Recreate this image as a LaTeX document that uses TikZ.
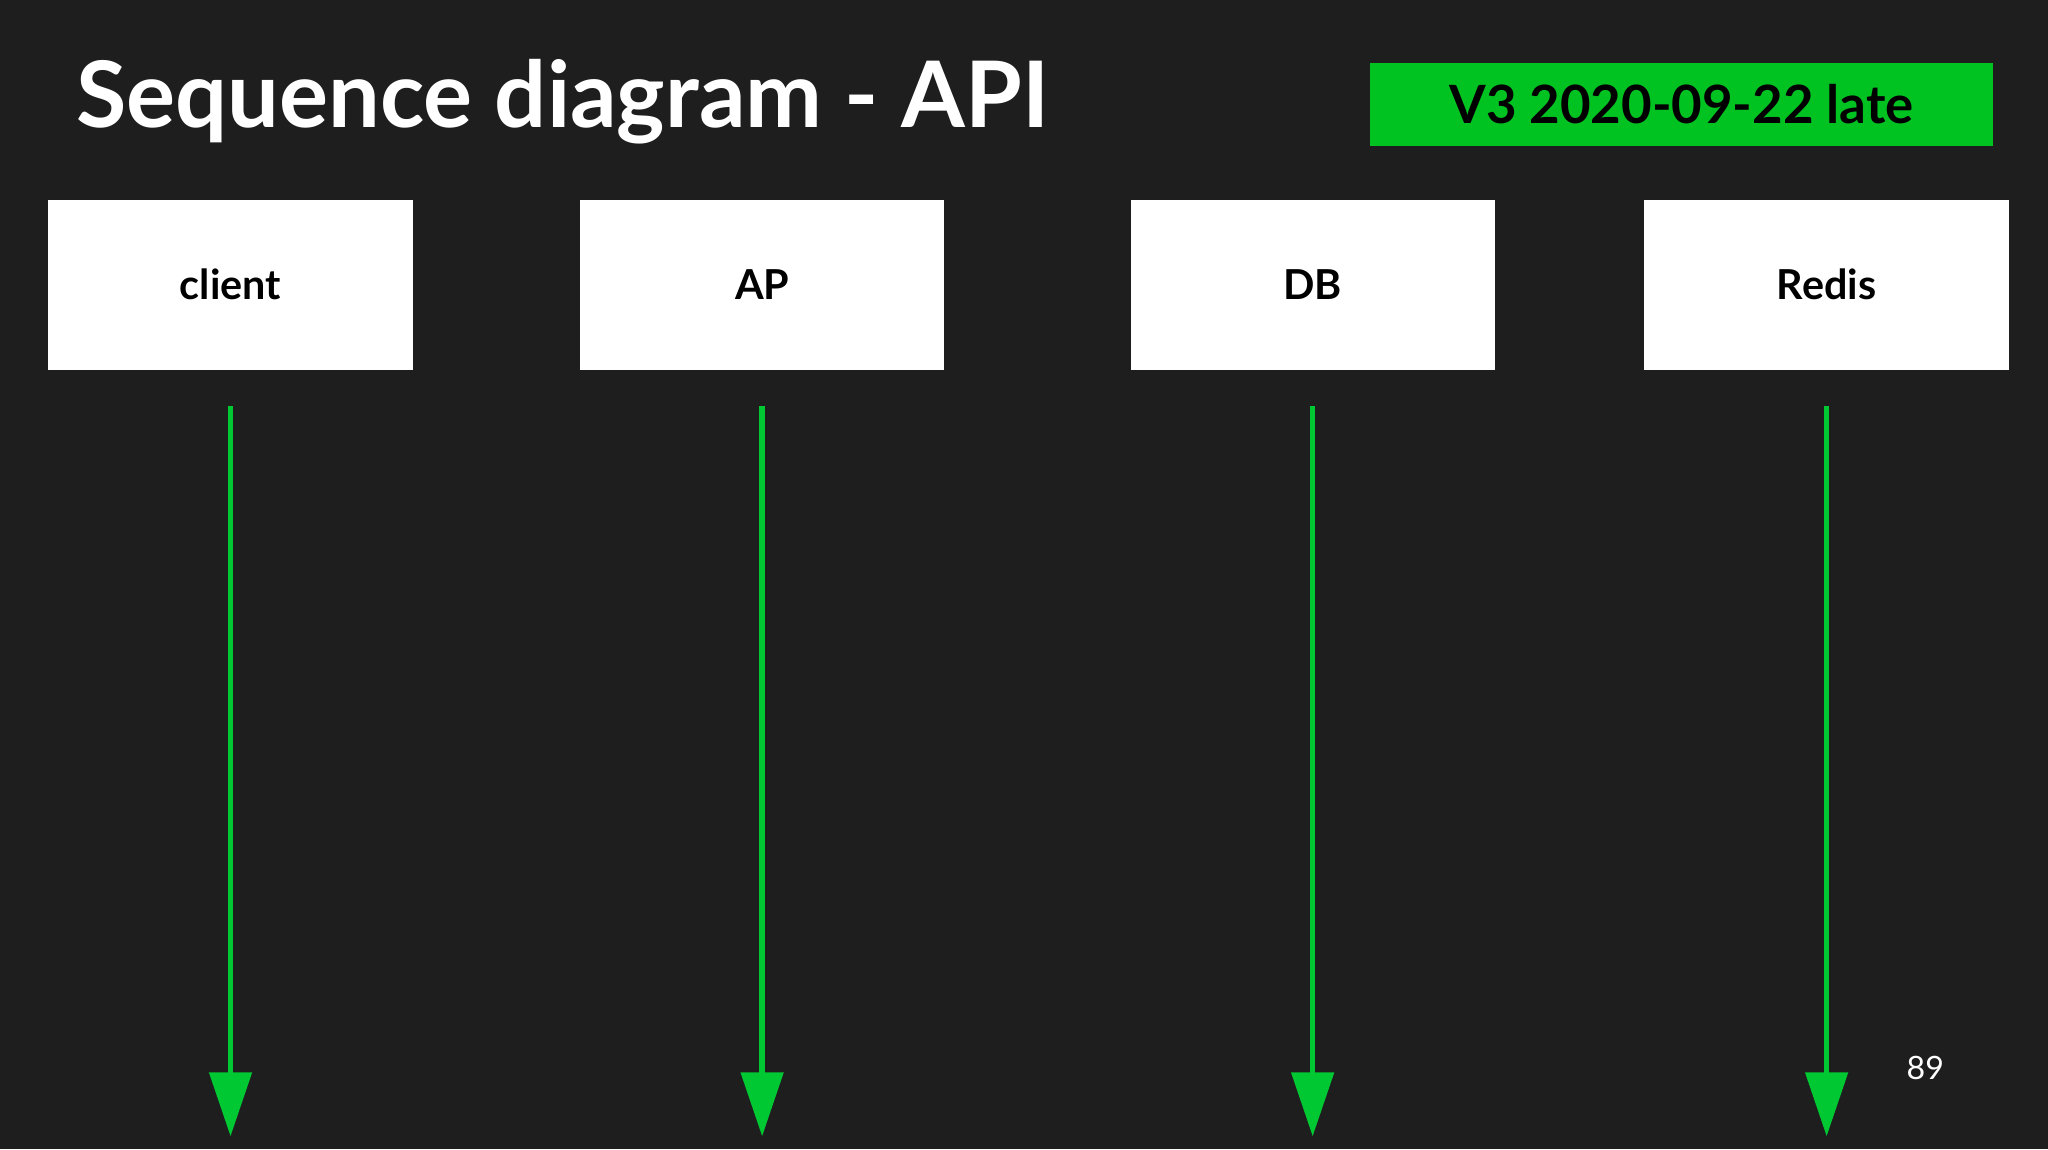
\documentclass[tikz,border=0pt]{standalone}
\usepackage{fontspec}
\setmainfont{Lato}
\usetikzlibrary{arrows.meta}
\definecolor{bg}{HTML}{1E1E1F}
\definecolor{grn}{HTML}{00C322}
\definecolor{arr}{HTML}{00C832}
\tikzset{
  actor/.style={draw=none,fill=white,minimum width=5.58cm,minimum height=2.6cm,inner sep=0pt,font=\fontsize{18}{20}\selectfont\bfseries,text=black},
  life/.style={draw=arr,line width=2.4pt,-{Triangle[width=0.64cm,length=0.98cm]}}
}
\begin{document}
\begin{tikzpicture}[x=0.02cm,y=-0.02cm]
\fill[bg] (0,0) rectangle (1568,880);
\useasboundingbox (0,0) rectangle (1568,880);
\node[anchor=west,text=white,font=\fontsize{40}{44}\selectfont\bfseries,inner sep=0pt] (title) at (58,78) {Sequence diagram - API};
\node[fill=grn,minimum width=9.54cm,minimum height=1.28cm,inner sep=0pt,font=\fontsize{23}{26}\selectfont\bfseries] (ver) at (1287.5,80) {V3 2020-09-22 late};
\node[actor] (client) at (176.5,218) {client};
\node[actor] (ap) at (583.5,218) {AP};
\node[actor] (db) at (1005,218) {DB};
\node[actor] (redis) at (1398.5,218) {Redis};
\foreach \n/\x in {client/176.5,ap/583.5,db/1005,redis/1398.5}{
  \coordinate (\n s) at (\x,311);
  \coordinate (\n e) at (\x,870);
  \draw[life] (\n s) -- (\n e);
}
\node[text=white,font=\fontsize{14}{16}\selectfont] (pg) at (1474,818) {89};
\end{tikzpicture}
\end{document}
